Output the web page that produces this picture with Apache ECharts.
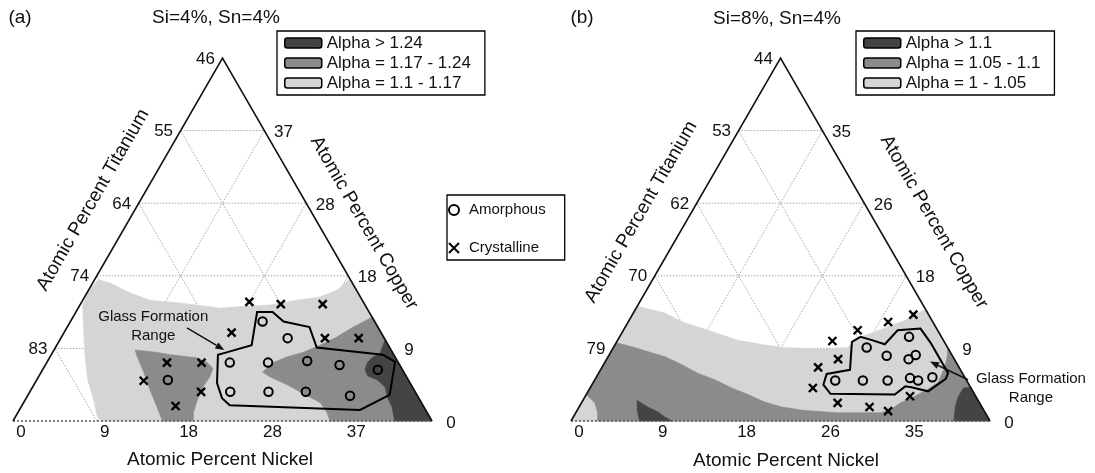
<!DOCTYPE html>
<html><head><meta charset="utf-8">
<script src="https://cdn.jsdelivr.net/npm/echarts@6/dist/echarts.min.js"></script>
<style>html,body{margin:0;padding:0;background:#fff}#c{width:1095px;height:473px}</style>
</head><body><div id="c"></div>
<script>
// ================= DATA (ternary points are [Ni, Cu] in atomic %) =================
// Panel (a): Si=4%, Sn=4%  -> displayed window: side of 46 at.% (Ti from 46 to 92)
const totalA = 46;
const tiTicksA = [83, 74, 64, 55, 46];
const cuTicksA = [0, 9, 18, 28, 37];
const niTicksA = [0, 9, 18, 28, 37];
const legendA = ['Alpha > 1.24', 'Alpha = 1.17 - 1.24', 'Alpha = 1.1 - 1.17'];
const lightA = [[0.4,17.9],[1.9,17.5],[4.3,16.4],[7.4,15.3],[10.5,15.0],[12.8,14.7],[15.6,14.3],[17.7,14.5],[20.9,14.7],[23.5,15.3],[25.8,15.7],[27.3,16.6],[27.7,17.5],[27.9,18.1],[46,0],[9.6,0],[8.8,0.8],[7.5,2.7],[5.6,5.2],[3.7,8.4],[2.0,11.5],[0.3,14.7],[0.1,16.4]];
const mediumA1 = [[8.9,9.0],[11.4,8.7],[13.1,8.4],[16.2,8.0],[17.6,7.4],[18.6,6.7],[18.8,5.6],[18.7,4.3],[18.9,2.7],[19.3,1.0],[19.8,0],[16.4,0],[14.9,1.8],[13.1,3.9],[11.0,6.5],[9.6,8.1]];
const mediumA2 = [[24.3,6.2],[24.9,7.4],[26.0,8.1],[27.5,8.7],[28.9,9.6],[30.2,10.6],[31.4,11.9],[32.9,13.2],[46,0],[34.8,0],[33.9,1.1],[32.6,2.3],[30.1,3.5],[27.8,4.6],[25.4,5.6]];
const darkA = [[35.7,10.3],[36.0,8.6],[35.4,8.0],[35.2,7.4],[35.4,6.5],[36.1,5.7],[37.4,5.2],[38.7,4.3],[39.6,3.0],[40.7,1.8],[41.9,0],[46,0]];
const glassA = [[19.9,13.8],[21.6,13.8],[23.4,12.6],[26.6,11.9],[28.7,9.3],[36.4,8.4],[38.2,7.5],[39.7,3.3],[37.4,1.4],[22.8,2.0],[21.5,2.9],[20.0,4.8],[18.3,8.4],[19.1,8.7],[21.4,9.6]];
const amorphousA = [[21.1,12.6],[24.9,10.5],[20.1,7.4],[24.3,7.4],[28.5,7.6],[32.3,7.1],[36.8,6.5],[22.0,3.7],[26.2,3.7],[30.3,3.7],[35.4,3.2],[14.4,5.2]];
const crystallineA = [[18.4,15.1],[22.0,14.8],[26.6,14.8],[18.4,11.2],[29.0,10.5],[32.7,10.5],[13.2,7.4],[17.0,7.4],[11.8,5.1],[18.8,3.7],[16.9,1.9]];
const arrowA = [[13.2,11.8],[18.7,9.0]];
const noteA = [9.4,12.0];

// Panel (b): Si=8%, Sn=4%  -> side of 44 at.% (Ti from 44 to 88)
const totalB = 44;
const tiTicksB = [79, 70, 62, 53, 44];
const cuTicksB = [0, 9, 18, 26, 35];
const niTicksB = [0, 9, 18, 26, 35];
const legendB = ['Alpha > 1.1', 'Alpha = 1.05 - 1.1', 'Alpha = 1 - 1.05'];
const lightB = [[0,13.9],[3.3,13.1],[5.7,12.0],[8.9,11.0],[12.6,9.8],[15.8,9.2],[18.0,8.9],[21.8,8.7],[24.6,8.9],[25.1,10.1],[26.3,10.7],[27.7,11.5],[29.0,12.2],[29.9,13.1],[30.5,13.5],[44,0],[0,0]];
const mediumB = [[0,9.5],[1.9,9.0],[3.9,8.4],[6.0,7.8],[8.3,6.8],[10.4,5.8],[12.6,5.0],[14.9,4.0],[17.0,3.2],[19.2,2.3],[21.3,1.7],[23.7,1.3],[27.4,1.0],[30.6,1.0],[32.0,1.0],[32.8,1.3],[33.5,2.2],[34.5,2.9],[35.5,3.8],[36.2,4.7],[36.0,6.5],[35.6,7.8],[35.1,8.9],[44,0],[2.8,0],[2.3,1.0],[1.4,2.2],[0,3.2]];
const darkB1 = [[5.7,2.5],[7.2,1.7],[8.6,1.1],[9.6,0.5],[10.6,0],[7.2,0],[6.3,1.3]];
const darkB2 = [[39.9,4.1],[39.2,4.0],[39.2,2.9],[39.5,1.7],[40.2,0],[44,0]];
const glassB = [[24.7,9.6],[25.3,10.2],[26.7,9.8],[28.3,9.3],[28.8,11.0],[31.1,11.2],[33.0,9.5],[36.7,5.8],[36.8,5.1],[35.7,3.6],[33.7,4.1],[33.0,4.2],[32.4,3.2],[25.6,3.3],[24.3,4.4],[24.0,5.7],[26.2,6.2]];
const amorphousB = [[26.6,8.9],[29.2,7.9],[30.4,10.2],[31.7,7.5],[32.2,8.0],[25.3,4.9],[28.2,4.9],[30.8,4.9],[33.0,5.2],[34.0,4.9],[35.3,5.3]];
const crystallineB = [[22.6,9.7],[24.3,7.5],[22.7,6.5],[23.4,4.0],[24.6,11.0],[27.3,12.0],[29.5,12.9],[26.9,2.2],[30.5,1.7],[32.7,1.2],[34.1,3.0]];
const arrowB = [[39.2,5.0],[34.1,7.2]];
const noteB = [46.3,4.0];

// ================= RENDERING =================
const FONT = '"Liberation Sans", Arial, Helvetica, sans-serif';
const C_DARK = '#444444', C_MED = '#8b8b8b', C_LIGHT = '#d5d5d5';
const SQ = Math.sqrt(3) / 2;
const toXY = p => [p[0] + p[1] / 2, p[1] * SQ];

function panel(i, P) {
  const S = P.total, step = S / 5;
  const base = { xAxisIndex: i, yAxisIndex: i, silent: true };
  const out = [];
  // grid lines
  const segs = [];
  for (let k = 1; k <= 4; k++) {
    const v = k * step;
    segs.push([[0, v], [S - v, v]]);
    segs.push([[v, 0], [v, S - v]]);
    segs.push([[v, 0], [0, v]]);
  }
  out.push(Object.assign({
    type: 'custom', z: 1, data: segs.map(() => [0, 0]),
    renderItem: (params, api) => {
      const s = segs[params.dataIndex];
      const a = api.coord(toXY(s[0])), b = api.coord(toXY(s[1]));
      return { type: 'line', shape: { x1: a[0], y1: a[1], x2: b[0], y2: b[1] },
        style: { stroke: '#a8a8a8', lineWidth: 1, lineDash: [1.5, 1.5] } };
    }
  }, base));
  // fills
  const fill = (name, color, polys, z) => Object.assign({
    type: 'custom', name, z, itemStyle: { color },
    data: polys.map(() => [0, 0]),
    renderItem: (params, api) => ({
      type: 'polygon',
      shape: { points: polys[params.dataIndex].map(p => api.coord(toXY(p))) },
      style: { fill: color, stroke: color, lineWidth: 0.6 }
    })
  }, base);
  out.push(fill(P.legend[2], C_LIGHT, P.light, 2));
  out.push(fill(P.legend[1], C_MED, P.medium, 3));
  out.push(fill(P.legend[0], C_DARK, P.dark, 4));
  // triangle frame
  out.push(Object.assign({
    type: 'custom', z: 5, data: [[0, 0]],
    renderItem: (params, api) => {
      const bl = api.coord(toXY([0, 0])), tp = api.coord(toXY([0, S])), br = api.coord(toXY([S, 0]));
      return { type: 'group', children: [
        { type: 'line', shape: { x1: bl[0], y1: bl[1], x2: br[0], y2: br[1] },
          style: { stroke: '#555', lineWidth: 1.4, lineDash: [2, 2] } },
        { type: 'polyline', shape: { points: [bl, tp, br] },
          style: { stroke: '#111', lineWidth: 1.6, fill: 'none' } }
      ] };
    }
  }, base));
  // glass formation boundary
  out.push(Object.assign({
    type: 'custom', z: 6, data: [[0, 0]],
    renderItem: (params, api) => ({
      type: 'polygon', shape: { points: P.glass.map(p => api.coord(toXY(p))) },
      style: { fill: 'none', stroke: '#000', lineWidth: 2 }
    })
  }, base));
  // arrow + note text
  out.push(Object.assign({
    type: 'custom', z: 6, data: [[0, 0]], clip: false,
    renderItem: (params, api) => {
      const a = api.coord(toXY(P.arrow[0])), b = api.coord(toXY(P.arrow[1]));
      const ang = Math.atan2(b[1] - a[1], b[0] - a[0]);
      const L = 9, W = 3.5;
      const bx = b[0] - L * Math.cos(ang), by = b[1] - L * Math.sin(ang);
      const head = [[b[0], b[1]], [bx + W * Math.sin(ang), by - W * Math.cos(ang)], [bx - W * Math.sin(ang), by + W * Math.cos(ang)]];
      const n = api.coord(toXY(P.note));
      return { type: 'group', children: [
        { type: 'line', shape: { x1: a[0], y1: a[1], x2: bx, y2: by }, style: { stroke: '#111', lineWidth: 1.5 } },
        { type: 'polygon', shape: { points: head }, style: { fill: '#111' } },
        { type: 'text', x: n[0], y: n[1], style: { text: 'Glass Formation\nRange', fill: '#111',
          font: '15px ' + FONT, lineHeight: 19, align: 'center', verticalAlign: 'middle' } }
      ] };
    }
  }, base));
  // markers
  out.push(Object.assign({
    type: 'scatter', name: 'Amorphous', z: 7, symbol: 'circle', symbolSize: 8.5,
    itemStyle: { color: 'rgba(0,0,0,0)', borderColor: '#000', borderWidth: 2, opacity: 1 },
    data: P.amorphous.map(toXY)
  }, base));
  out.push(Object.assign({
    type: 'scatter', name: 'Crystalline', z: 7, symbol: 'path://M0,0L10,10M10,0L0,10', symbolSize: 8,
    itemStyle: { color: 'rgba(0,0,0,0)', borderColor: '#000', borderWidth: 2.4, opacity: 1 },
    data: P.crystalline.map(toXY)
  }, base));
  // tick labels
  const ticks = [];
  P.tiTicks.forEach((t, k) => ticks.push({ t: String(t), p: [0, (k + 1) * step], off: [-17, 1] }));
  P.cuTicks.forEach((t, k) => ticks.push({ t: String(t), p: [S - k * step, k * step], off: [19, 2] }));
  P.niTicks.forEach((t, k) => ticks.push({ t: String(t), p: [k * step, 0], off: [8, 11] }));
  out.push(Object.assign({
    type: 'custom', z: 8, clip: false, data: ticks.map(() => [0, 0]),
    renderItem: (params, api) => {
      const tk = ticks[params.dataIndex];
      const c = api.coord(toXY(tk.p));
      return { type: 'text', x: c[0] + tk.off[0], y: c[1] + tk.off[1],
        style: { text: tk.t, fill: '#111', font: '17px ' + FONT, align: 'center', verticalAlign: 'middle' } };
    }
  }, base));
  return out;
}

const PA = { total: totalA, tiTicks: tiTicksA, cuTicks: cuTicksA, niTicks: niTicksA, legend: legendA,
  light: [lightA], medium: [mediumA1, mediumA2], dark: [darkA], glass: glassA,
  amorphous: amorphousA, crystalline: crystallineA, arrow: arrowA, note: noteA };
const PB = { total: totalB, tiTicks: tiTicksB, cuTicks: cuTicksB, niTicks: niTicksB, legend: legendB,
  light: [lightB], medium: [mediumB], dark: [darkB1, darkB2], glass: glassB,
  amorphous: amorphousB, crystalline: crystallineB, arrow: arrowB, note: noteB };

const txt = (x, y, text, opts) => Object.assign({
  type: 'text', x, y, silent: true,
  style: Object.assign({ text, fill: '#111', font: '19px ' + FONT, align: 'center', verticalAlign: 'middle' }, opts || {})
});
const rot = (x, y, text, r) => Object.assign(txt(x, y, text), { rotation: r });

const alphaLegend = (left, names) => ({
  orient: 'vertical', left, top: 31, data: names, selectedMode: false,
  icon: 'roundRect', itemWidth: 37, itemHeight: 10, itemGap: 0,
  padding: [2, 14, 2, 7], borderColor: '#000', borderWidth: 1.3, backgroundColor: '#fff',
  itemStyle: { borderColor: '#000', borderWidth: 1.5 },
  textStyle: { fontSize: 17, color: '#111', lineHeight: 20, fontFamily: FONT }
});

const chart = echarts.init(document.getElementById('c'), null, { renderer: 'canvas' });
chart.setOption({
  animation: false,
  backgroundColor: '#fff',
  grid: [
    { left: 13, top: 58, width: 419, height: 363 },
    { left: 571, top: 58, width: 419, height: 363 }
  ],
  xAxis: [
    { gridIndex: 0, type: 'value', min: 0, max: totalA, show: false },
    { gridIndex: 1, type: 'value', min: 0, max: totalB, show: false }
  ],
  yAxis: [
    { gridIndex: 0, type: 'value', min: 0, max: totalA * SQ, show: false },
    { gridIndex: 1, type: 'value', min: 0, max: totalB * SQ, show: false }
  ],
  legend: [
    alphaLegend(277, legendA),
    alphaLegend(856, legendB),
    { orient: 'vertical', left: 447, top: 195, data: ['Amorphous', 'Crystalline'], selectedMode: false,
      itemWidth: 20, itemHeight: 10, itemGap: 18, padding: [5, 19, 2, 1],
      borderColor: '#000', borderWidth: 1.3, backgroundColor: '#fff',
      textStyle: { fontSize: 15, color: '#111', lineHeight: 20, fontFamily: FONT } }
  ],
  graphic: [
    txt(20, 18, '(a)'),
    txt(216, 18, 'Si=4%, Sn=4%'),
    rot(93, 200, 'Atomic Percent Titanium', Math.PI / 3),
    rot(364, 223, 'Atomic Percent Copper', -Math.PI / 3),
    txt(220, 460, 'Atomic Percent Nickel'),
    txt(582, 18, '(b)'),
    txt(777, 19, 'Si=8%, Sn=4%'),
    rot(641, 212, 'Atomic Percent Titanium', Math.PI / 3),
    rot(934, 222, 'Atomic Percent Copper', -Math.PI / 3),
    txt(786, 461, 'Atomic Percent Nickel')
  ],
  series: [].concat(panel(0, PA), panel(1, PB))
});
</script>
</body></html>
